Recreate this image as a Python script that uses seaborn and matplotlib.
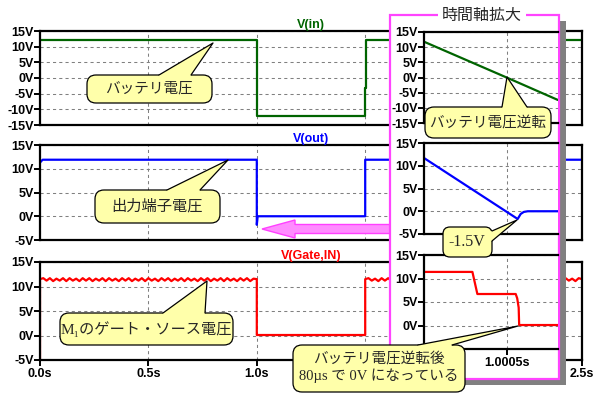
import numpy as np
import matplotlib
matplotlib.use("Agg")
import matplotlib.pyplot as plt
import seaborn as sns
from matplotlib.patches import Rectangle, FancyBboxPatch, Polygon
from matplotlib.lines import Line2D
from matplotlib.transforms import Affine2D

# ---------------- data ----------------
# main window (seconds, volts)
t_vin = [0.0, 1.0, 1.0, 1.5, 1.5, 1.503, 1.503, 2.5]
v_vin = [12.0, 12.0, -12.2, -12.2, -3.2, -3.2, 12.0, 12.0]

t_vout = [0.0, 0.012, 1.0, 1.0, 1.004, 1.5, 1.5, 2.5]
v_vout = [11.3, 11.9, 11.9, -1.8, 0.0, 0.0, 11.9, 11.9]

gate_ripple_a = [11.5, 11.7, 11.2, 11.7, 11.1, 11.6, 11.2, 11.7, 11.1, 11.7, 11.2, 11.6,
                 11.1, 11.7, 11.2, 11.7, 11.1, 11.6, 11.2, 11.7, 11.1, 11.7, 11.2, 11.6,
                 11.1, 11.7, 11.2, 11.7, 11.1, 11.6, 11.2, 11.7, 11.1, 11.7, 11.2, 11.6,
                 11.1, 11.7, 11.2, 11.7, 11.1, 11.6, 11.2, 11.7, 11.1, 11.7, 11.2, 11.6,
                 11.1, 11.7, 11.2, 11.7, 11.1, 11.6, 11.2, 11.7, 11.1, 11.7, 11.2, 11.6,
                 11.1, 11.7, 11.2, 11.7, 11.1, 11.6, 11.5]
gate_ripple_b = [11.5, 11.7, 11.2, 11.6, 11.1, 11.7, 11.2, 11.7, 11.1, 11.6, 11.2, 11.7,
                 11.1, 11.7, 11.2, 11.6, 11.1, 11.7, 11.2, 11.7, 11.1, 11.6, 11.2, 11.7,
                 11.1, 11.7, 11.2, 11.6, 11.1, 11.7, 11.2, 11.7, 11.1, 11.6, 11.2, 11.7,
                 11.1, 11.7, 11.2, 11.6, 11.1, 11.7, 11.2, 11.7, 11.1, 11.6, 11.2, 11.7,
                 11.1, 11.7, 11.2, 11.6, 11.1, 11.7, 11.2, 11.7, 11.1, 11.6, 11.2, 11.7,
                 11.1, 11.7, 11.2, 11.6, 11.1, 11.7, 11.5]
t_gate = ([0.0] + list(np.linspace(0.0, 1.0, len(gate_ripple_a))) + [1.0, 1.5]
          + list(np.linspace(1.5, 2.5, len(gate_ripple_b))))
v_gate = [-5.0] + gate_ripple_a + [0.1, 0.1] + gate_ripple_b

# zoomed window (seconds, volts)
ti_vin = [1.0, 1.00025, 1.0005, 1.00081]
vi_vin = [11.8, 5.9, 0.0, -7.4]

ti_vout = [1.0, 1.000567, 1.000585, 1.000604, 1.000628, 1.00081]
vi_vout = [11.7, -1.7, -0.6, -0.15, 0.0, 0.0]

ti_gate = [1.0, 1.000293, 1.000323, 1.000555, 1.000564, 1.000573, 1.000576, 1.00081]
vi_gate = [11.4, 11.4, 6.7, 6.7, 5.8, 3.8, 0.1, 0.1]

main_xticks = [0.0, 0.5, 1.0, 1.5, 2.0, 2.5]
main_xlabels = ['0.0s', '0.5s', '1.0s', '', '', '2.5s']  # 1.5s / 2.0s are hidden
inset_xticks = [1.0005]
inset_xlabels = ['1.0005s']
yticks_30 = [-15, -10, -5, 0, 5, 10, 15]
yticks_20 = [-5, 0, 5, 10, 15]

# ---------------- figure ----------------
sns.set_style("white")
plt.rcParams['font.family'] = ['Liberation Sans', 'Noto Sans CJK JP', 'DejaVu Sans']

W, H = 598, 397
fig = plt.figure(figsize=(W / 100, H / 100), dpi=100)
PX = Affine2D().scale(1 / W, -1 / H).translate(0, 1) + fig.transFigure

GREEN, BLUE, RED = '#006400', '#0000ff', '#ff0000'
JP = ['Noto Sans CJK JP', 'DejaVu Sans']
SERIF_JP = ['Liberation Serif', 'DejaVu Serif', 'Noto Sans CJK JP']


def add_ax(x0, y0, x1, y1, z):
    ax = fig.add_axes([x0 / W, 1 - y1 / H, (x1 - x0) / W, (y1 - y0) / H])
    ax.set_zorder(z)
    ax.set_facecolor('white')
    return ax


def style(ax, ylim, yticks, xlim, xticks, xlabels=None, right=True,
          hide_ylabels=()):
    ax.set_xlim(xlim)
    ax.set_ylim(ylim)
    ax.set_yticks(yticks)
    ax.set_yticklabels(['' if v in hide_ylabels else f"{v}V" for v in yticks])
    ax.set_xticks(xticks)
    ax.grid(True, color='#808080', linestyle=(0, (3, 3)), linewidth=0.75)
    for name, s in ax.spines.items():
        s.set_linewidth(1.6)
        s.set_color('black')
    if not right:
        ax.spines['right'].set_visible(False)
    ax.tick_params(axis='y', left=True, length=4, width=1.4, pad=0.5,
                   labelsize=9, colors='black')
    if xlabels is None:
        ax.tick_params(axis='x', bottom=False, labelbottom=False)
    else:
        ax.set_xticklabels(xlabels)
        ax.tick_params(axis='x', bottom=True, length=4, width=1.4, pad=2,
                       labelsize=9, colors='black')
    for lab in ax.get_yticklabels() + ax.get_xticklabels():
        lab.set_fontweight('bold')
    ax.set_xlabel('')
    ax.set_ylabel('')


def line(ax, x, y, color):
    sns.lineplot(x=x, y=y, ax=ax, estimator=None, sort=False, color=color,
                 linewidth=1.6)


# main panels
ax1 = add_ax(40, 31, 582, 125, 0)
ax2 = add_ax(40, 145, 582, 240, 0)
ax3 = add_ax(40, 262, 582, 360, 0)
line(ax1, t_vin, v_vin, GREEN)
line(ax2, t_vout, v_vout, BLUE)
line(ax3, t_gate, v_gate, RED)
style(ax1, (-15, 15), yticks_30, (0, 2.5), main_xticks)
style(ax2, (-5, 15), yticks_20, (0, 2.5), main_xticks)
style(ax3, (-5, 15), yticks_20, (0, 2.5), main_xticks, xlabels=main_xlabels)
for ax, title, c in [(ax1, 'V(in)', GREEN), (ax2, 'V(out)', BLUE),
                     (ax3, 'V(Gate,IN)', RED)]:
    ax.set_title(title, color=c, fontweight='bold', fontsize=9, pad=2.5)

# inset frame with shadow
fig.add_artist(Rectangle((396, 21), 170, 364, transform=PX, fc='#808080',
                         ec='none', zorder=1))
fig.add_artist(Rectangle((390, 15), 169, 364, transform=PX, fc='white',
                         ec='#ff44ff', lw=1.6, zorder=1.5))

# pink arrow
arrow_pts = [(262, 229), (295, 220), (295, 224.5), (392, 224.5), (392, 233.5),
             (295, 233.5), (295, 238)]
fig.add_artist(Polygon(arrow_pts, closed=True, transform=PX, fc='#ff8cff',
                       ec='#ff40ff', lw=1.0, zorder=1.4))

# inset panels
ix = (1.0, 1.000811)
i1 = add_ax(424, 32, 558, 123, 2)
i2 = add_ax(424, 143, 558, 234, 2)
i3 = add_ax(424, 255, 558, 349, 2)
line(i1, ti_vin, vi_vin, GREEN)
line(i2, ti_vout, vi_vout, BLUE)
line(i3, ti_gate, vi_gate, RED)
style(i1, (-15, 15), yticks_30, ix, inset_xticks, right=False)
style(i2, (-5, 15), yticks_20, ix, inset_xticks, right=False)
style(i3, (-5, 15), yticks_20, ix, inset_xticks, xlabels=inset_xlabels,
      right=False, hide_ylabels=(-5,))

fig.text(482, 15, '時間軸拡大', transform=PX, ha='center', va='center',
         fontsize=11.5, family=JP, zorder=5,
         bbox=dict(fc='white', ec='none', pad=2.5))

# callouts
YEL = '#ffffaa'


def callout(box, base, inward, tip, text, center, size, family, z=6, r=9):
    x0, y0, x1, y1 = box
    fig.add_artist(FancyBboxPatch((x0, y0), x1 - x0, y1 - y0,
                                  boxstyle=f"round,pad=0,rounding_size={r}",
                                  transform=PX, fc=YEL, ec='black', lw=0.9,
                                  zorder=z))
    dx, dy = inward
    b0, b1 = base
    poly = [(b0[0] + dx, b0[1] + dy), b0, tip, b1, (b1[0] + dx, b1[1] + dy)]
    fig.add_artist(Polygon(poly, closed=True, transform=PX, fc=YEL, ec='none',
                           zorder=z + 0.1))
    fig.add_artist(Line2D([b0[0], tip[0], b1[0]], [b0[1], tip[1], b1[1]],
                          transform=PX, color='black', lw=0.9, zorder=z + 0.2))
    fig.text(center[0], center[1], text, transform=PX, ha='center',
             va='center', fontsize=size, family=family, zorder=z + 0.3,
             linespacing=1.25)


callout((87, 75, 212, 103), ((159, 75), (191, 75)), (0, 4), (213, 43),
        'バッテリ電圧', (149, 89), 10.5, JP)
callout((95, 190, 220, 223), ((167, 190), (200, 190)), (0, 4), (228, 160),
        '出力端子電圧', (157, 206), 11, JP)
callout((60, 313, 233, 345), ((163, 313), (205, 313)), (0, 4), (207, 281),
        'M\u2081のゲート・ソース電圧', (146, 329), 11, SERIF_JP)
callout((425, 107, 551, 138), ((502, 107), (527, 107)), (0, 4), (507, 77),
        'バッテリ電圧逆転', (488, 123), 10.5, JP, z=7)
callout((443, 227, 492, 257), ((492, 231), (492, 241)), (-4, 0), (517, 220),
        '-1.5V', (467, 242), 11.5, SERIF_JP, z=7, r=7)
callout((293, 345, 465, 392), ((418, 345), (452, 345)), (0, 4), (518, 326),
        'バッテリ電圧逆転後\n80µs で 0V になっている', (379, 367), 10.5,
        SERIF_JP, z=7)

fig.savefig('out.png', dpi=100)
